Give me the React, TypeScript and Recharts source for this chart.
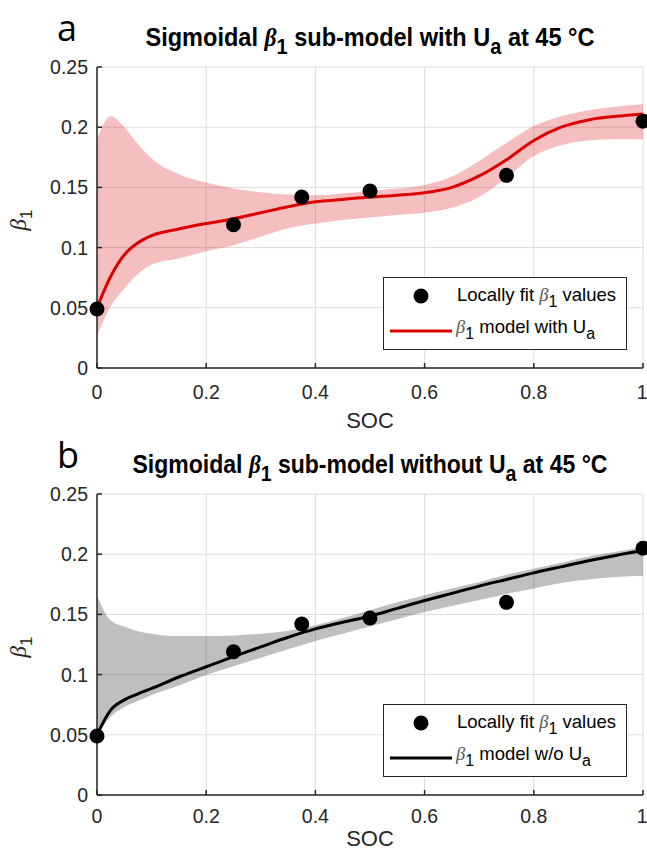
import React from "react";
import { ComposedChart, Area, Line, Scatter, XAxis, YAxis, CartesianGrid } from "recharts";

// SOC grid of the fitted sub-model curves
const soc = [0, 0.025, 0.05, 0.075, 0.1, 0.15, 0.2, 0.25, 0.3, 0.35, 0.4, 0.45, 0.5, 0.55, 0.6, 0.65, 0.7, 0.75, 0.8, 0.85, 0.9, 0.95, 1];

// panel a: sigmoidal model with Ua
const modelWithUa = [0.05, 0.076, 0.094, 0.104, 0.11, 0.1155, 0.12, 0.124, 0.129, 0.134, 0.138, 0.14, 0.142, 0.1435, 0.1455, 0.15, 0.1595, 0.173, 0.189, 0.2, 0.206, 0.209, 0.211];
const upperWithUa = [0.19, 0.209, 0.2, 0.186, 0.174, 0.161, 0.154, 0.149, 0.146, 0.144, 0.1435, 0.145, 0.147, 0.149, 0.152, 0.159, 0.172, 0.187, 0.201, 0.209, 0.214, 0.217, 0.219];
const lowerWithUa = [0.027, 0.051, 0.066, 0.078, 0.086, 0.091, 0.097, 0.102, 0.109, 0.116, 0.12, 0.123, 0.125, 0.127, 0.129, 0.133, 0.142, 0.158, 0.176, 0.185, 0.189, 0.19, 0.19];

// panel b: model without Ua
const modelNoUa = [0.05, 0.0705, 0.079, 0.084, 0.0885, 0.098, 0.1065, 0.115, 0.123, 0.131, 0.138, 0.1435, 0.1485, 0.155, 0.1615, 0.1675, 0.1735, 0.179, 0.1845, 0.1895, 0.1945, 0.199, 0.203];
const upperNoUa = [0.166, 0.145, 0.14, 0.136, 0.134, 0.132, 0.132, 0.1325, 0.134, 0.1365, 0.141, 0.147, 0.1535, 0.16, 0.166, 0.1715, 0.177, 0.183, 0.188, 0.193, 0.198, 0.202, 0.206];
const lowerNoUa = [0.05, 0.065, 0.073, 0.078, 0.083, 0.091, 0.0996, 0.107, 0.114, 0.121, 0.128, 0.134, 0.14, 0.146, 0.152, 0.157, 0.162, 0.167, 0.1715, 0.176, 0.179, 0.181, 0.182];

// locally fit beta1 values
const fitSoc = [0, 0.25, 0.375, 0.5, 0.75, 1];
const fitBeta = [0.049, 0.119, 0.142, 0.147, 0.16, 0.205];

const xTicks = [0, 0.2, 0.4, 0.6, 0.8, 1];
const yTicks = [0, 0.05, 0.1, 0.15, 0.2, 0.25];

const AX = "#262626";
const FONT = "'Liberation Sans', Arial, Helvetica, sans-serif";
const SERIF = "'Liberation Serif', 'Times New Roman', serif";

const fitRows = fitSoc.map((s, i) => ({ soc: s, beta: fitBeta[i] }));

const Dot = (p: any) => <circle cx={p.cx} cy={p.cy} r={7.5} fill="#000" />;

type PanelProps = {
  top: number;
  height: number;
  tickGap: number;
  socOffset: number;
  letter: string;
  titleWord: string;
  titleWidth: number;
  legendText: string;
  color: string;
  model: number[];
  upper: number[];
  lower: number[];
};

function Panel(props: PanelProps) {
  const { top, height, tickGap, socOffset, letter, titleWord, titleWidth, legendText, color, model, upper, lower } = props;
  const rows = soc.map((s, i) => ({ soc: s, model: model[i], band: [lower[i], upper[i]] }));
  const axisLine = { stroke: AX, strokeWidth: 1.5 };
  const tickLine = { stroke: AX, strokeWidth: 1.5 };
  return (
    <div style={{ position: "absolute", left: 0, top, width: 647, height }}>
      <ComposedChart width={647} height={height} data={rows} margin={{ top: 67, right: 4, bottom: height - 398, left: 0 }}>
        <CartesianGrid stroke="#dcdcdc" strokeWidth={1} />
        <XAxis
          dataKey="soc"
          type="number"
          domain={[0, 1]}
          ticks={xTicks}
          height={30}
          tickSize={-5}
          tickMargin={tickGap}
          axisLine={axisLine}
          tickLine={tickLine}
          tick={{ fill: AX, fontSize: 19.5, fontFamily: FONT }}
          label={{ value: "SOC", position: "bottom", offset: socOffset, fill: AX, fontSize: 22, fontFamily: FONT }}
        />
        <XAxis
          xAxisId="top"
          orientation="top"
          dataKey="soc"
          type="number"
          domain={[0, 1]}
          ticks={xTicks}
          height={0}
          tickSize={-5}
          tick={false}
          axisLine={axisLine}
          tickLine={tickLine}
        />
        <YAxis
          type="number"
          domain={[0, 0.25]}
          ticks={yTicks}
          width={97}
          tickSize={-5}
          tickMargin={14}
          axisLine={axisLine}
          tickLine={tickLine}
          tick={{ fill: AX, fontSize: 19.5, fontFamily: FONT }}
        />
        <YAxis
          yAxisId="right"
          orientation="right"
          type="number"
          domain={[0, 0.25]}
          ticks={yTicks}
          width={0}
          tickSize={-5}
          tick={false}
          axisLine={axisLine}
          tickLine={tickLine}
        />
        <Scatter data={fitRows} dataKey="beta" shape={Dot} isAnimationActive={false} />
        <Area type="monotone" dataKey="band" stroke="none" fill={color} fillOpacity={0.25} isAnimationActive={false} />
        <Line type="monotone" dataKey="model" stroke={color} strokeWidth={3} dot={false} isAnimationActive={false} />
      </ComposedChart>

      <svg width={647} height={height} style={{ position: "absolute", left: 0, top: 0, pointerEvents: "none" }}>
        <text x={57} y={41} fontFamily="'Open Sans', sans-serif" fontSize={36} fill="#000">
          {letter}
        </text>
        <text
          x={370}
          y={46}
          textAnchor="middle"
          fontFamily={FONT}
          fontWeight="bold"
          fontSize={26}
          fill="#000"
          textLength={titleWidth}
          lengthAdjust="spacingAndGlyphs"
        >
          {"Sigmoidal "}
          <tspan fontFamily={SERIF} fontStyle="italic">β</tspan>
          <tspan dy={8} fontSize={22}>1</tspan>
          <tspan dy={-8}>{` sub-model ${titleWord} U`}</tspan>
          <tspan dy={8} fontSize={22}>a</tspan>
          <tspan dy={-8}>{" at 45 °C"}</tspan>
        </text>
        <text transform="translate(26,220) rotate(-90)" textAnchor="middle" fill={AX}>
          <tspan fontFamily={SERIF} fontStyle="italic" fontSize={23}>β</tspan>
          <tspan dy={6} fontFamily={FONT} fontSize={17}>1</tspan>
        </text>
      </svg>

      <div
        style={{
          position: "absolute",
          left: 383,
          top: 277,
          width: 244,
          height: 73,
          border: `1px solid ${AX}`,
          background: "#fff",
          boxSizing: "border-box",
        }}
      >
        <svg width={242} height={71} style={{ display: "block" }}>
          <circle cx={37} cy={18} r={7.5} fill="#000" />
          <text x={73} y={23} fontFamily={FONT} fontSize={18.5} fill="#000">
            {"Locally fit "}
            <tspan fontFamily={SERIF} fontStyle="italic" fill="#555">β</tspan>
            <tspan dy={6} fontSize={16}>1</tspan>
            <tspan dy={-6}>{" values"}</tspan>
          </text>
          <line x1={6} x2={68} y1={53} y2={53} stroke={color} strokeWidth={3} />
          <text x={72} y={55} fontFamily={FONT} fontSize={18.5} fill="#000">
            <tspan fontFamily={SERIF} fontStyle="italic" fill="#555">β</tspan>
            <tspan dy={6} fontSize={16}>1</tspan>
            <tspan dy={-6}>{` model ${legendText}U`}</tspan>
            <tspan dy={6} fontSize={16}>a</tspan>
          </text>
        </svg>
      </div>
    </div>
  );
}

export default function App() {
  return (
    <div style={{ position: "absolute", left: 0, top: 0, width: 647, height: 855, background: "#fff" }}>
      <Panel
        top={0}
        height={440}
        tickGap={22}
        socOffset={14}
        letter="a"
        titleWord="with"
        titleWidth={449}
        legendText="with "
        color="#dc0000"
        model={modelWithUa}
        upper={upperWithUa}
        lower={lowerWithUa}
      />
      <Panel
        top={427}
        height={428}
        tickGap={19}
        socOffset={5}
        letter="b"
        titleWord="without"
        titleWidth={475}
        legendText="w/o "
        color="#000"
        model={modelNoUa}
        upper={upperNoUa}
        lower={lowerNoUa}
      />
    </div>
  );
}
